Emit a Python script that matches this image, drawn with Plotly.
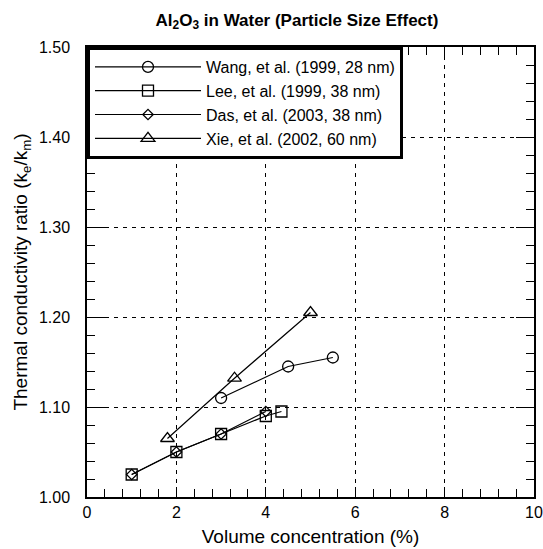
import plotly.graph_objects as go

wang_x = [3.0, 4.5, 5.5]
wang_y = [1.11, 1.145, 1.155]
lee_x = [1.0, 2.0, 3.0, 4.0, 4.35]
lee_y = [1.025, 1.05, 1.07, 1.09, 1.095]
das_x = [1.0, 2.0, 3.0, 4.0]
das_y = [1.025, 1.05, 1.07, 1.095]
xie_x = [1.8, 3.3, 5.0]
xie_y = [1.065, 1.132, 1.205]

names = ["Wang, et al. (1999, 28 nm)", "Lee, et al. (1999, 38 nm)",
         "Das, et al. (2003, 38 nm)", "Xie, et al. (2002, 60 nm)"]
symbols = ["circle-open", "square-open", "diamond-open", "triangle-up-open"]
sizes = [11, 11, 8, 12]

fig = go.Figure()
for (xs, ys), nm, sym, sz in zip([(wang_x, wang_y), (lee_x, lee_y), (das_x, das_y), (xie_x, xie_y)],
                                 names, symbols, sizes):
    fig.add_trace(go.Scatter(
        x=xs, y=ys, mode="lines+markers", name=nm,
        line=dict(color="black", width=1.2),
        marker=dict(symbol=sym, size=sz, color="black", line=dict(width=1.3, color="black")),
    ))

font = "Liberation Sans, Arial, Helvetica, sans-serif"
fig.update_layout(
    width=543, height=549,
    margin=dict(l=87, r=9, t=47, b=52),
    paper_bgcolor="white", plot_bgcolor="white",
    font=dict(family=font, size=16, color="black"),
    title=dict(text="<b>Al<sub>2</sub>O<sub>3</sub> in Water (Particle Size Effect)</b>",
               x=297 / 543, xanchor="center", y=0.975, yanchor="top",
               font=dict(family=font, size=17, color="black")),
    showlegend=True,
    legend=dict(x=0.0, y=1.0, xanchor="left", yanchor="top",
                bordercolor="black", borderwidth=3, bgcolor="white",
                font=dict(family=font, size=16, color="black"),
                itemwidth=106, tracegroupgap=0,
                entrywidth=320, entrywidthmode="pixels"),
    xaxis=dict(range=[0, 10], dtick=2, tickformat="d", automargin=False,
               ticklabeloverflow="allow",
               showline=True, linecolor="black", linewidth=1.5, mirror="ticks",
               ticks="inside", ticklen=10, tickcolor="black", tickwidth=1,
               showgrid=True, gridcolor="black", gridwidth=1, griddash="4px,5px",
               zeroline=False,
               minor=dict(dtick=0.4, ticks="inside", ticklen=8, tickcolor="black", showgrid=False),
               title=dict(text="Volume concentration (%)", standoff=10),
               tickfont=dict(family=font, size=16, color="black")),
    yaxis=dict(range=[1.0, 1.5], dtick=0.1, tickformat=".2f", automargin=False,
               ticklabeloverflow="allow",
               showline=True, linecolor="black", linewidth=1.5, mirror="ticks",
               ticks="inside", ticklen=18, tickcolor="black", tickwidth=1,
               showgrid=True, gridcolor="black", gridwidth=1, griddash="4px,5px",
               zeroline=False, ticklabelstandoff=12,
               minor=dict(dtick=0.02, ticks="inside", ticklen=8, tickcolor="black", showgrid=False),
               title=dict(text="Thermal conductivity ratio (k<sub>e</sub>/k<sub>m</sub>)", standoff=6),
               tickfont=dict(family=font, size=16, color="black")),
)

fig.write_html("out.html")
